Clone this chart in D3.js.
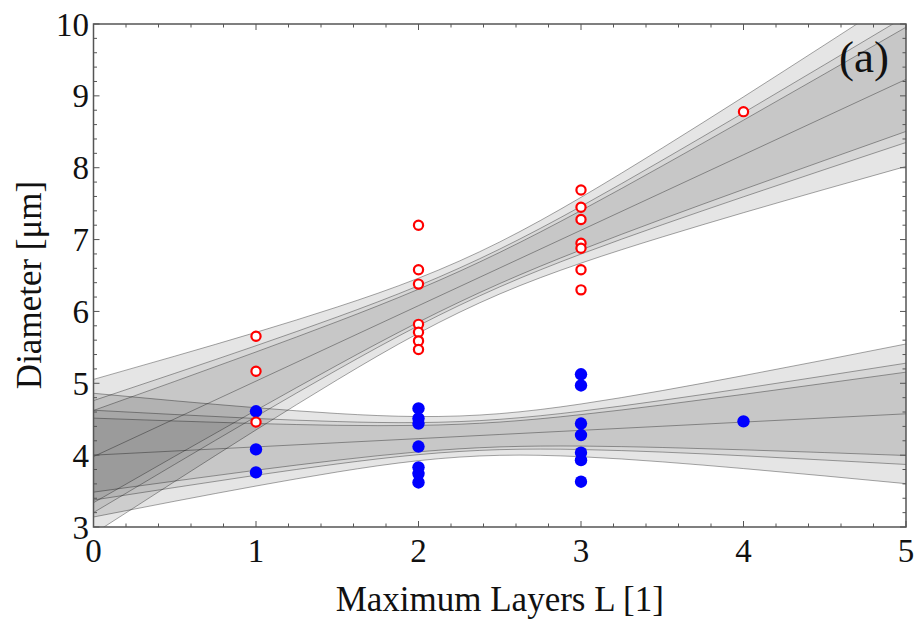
<!DOCTYPE html>
<html>
<head>
<meta charset="utf-8">
<script src="https://cdn.jsdelivr.net/npm/d3@7"></script>
<style>
  html, body { margin: 0; padding: 0; background: #fff; }
  svg { display: block; }
  text { font-family: "Liberation Serif", "Times New Roman", serif; fill: #111; }
</style>
</head>
<body>
<svg id="chart" width="917" height="626"></svg>
<script>
// ---------- data ----------
const redX = [1,1,1, 2,2,2,2,2,2,2, 3,3,3,3,3,3,3, 4];
const redY = [5.655,5.167,4.46, 7.2,6.58,6.38,5.82,5.71,5.59,5.47, 7.69,7.45,7.28,6.95,6.88,6.58,6.30, 8.78];
const blueX = [1,1,1, 2,2,2,2,2,2,2, 3,3,3,3,3,3,3, 4];
const blueY = [4.61,4.08,3.76, 4.65,4.51,4.44,4.12,3.83,3.74,3.62, 5.125,4.97,4.44,4.28,4.035,3.93,3.63, 4.47];

// fit bands sampled along x
const bandX = [0,0.5,1,1.5,2,2.5,3,3.5,4,4.5,5];
const redCenter = [3.98,4.505,5.03,5.555,6.08,6.605,7.13,7.655,8.18,8.705,9.23];
const redHalf90 = [0.642,0.521,0.406,0.303,0.229,0.217,0.274,0.370,0.482,0.602,0.725];
const redHalf95 = [0.779,0.633,0.493,0.368,0.278,0.263,0.332,0.449,0.585,0.730,0.879];
const redHalf99 = [1.074,0.872,0.679,0.507,0.383,0.362,0.458,0.619,0.806,1.006,1.212];
const blueCenter = [4.0,4.0575,4.115,4.1725,4.23,4.2875,4.345,4.4025,4.46,4.5175,4.575];
const blueHalf90 = [0.515,0.418,0.325,0.243,0.184,0.173,0.219,0.296,0.386,0.482,0.580];
const blueHalf95 = [0.625,0.508,0.395,0.295,0.223,0.211,0.267,0.360,0.469,0.586,0.705];
const blueHalf99 = [0.861,0.699,0.545,0.407,0.307,0.290,0.367,0.496,0.647,0.807,0.972];

const xTicks = [0,1,2,3,4,5];
const yTicks = [3,4,5,6,7,8,9,10];
const xLabel = "Maximum Layers L [1]";
const yLabel = "Diameter [μm]";
const panelLabel = "(a)";

// ---------- layout ----------
const L = 93.5, R = 906, T = 24, B = 527;
const svg = d3.select("#chart");
const x = d3.scaleLinear().domain([0,5]).range([L,R]);
const y = d3.scaleLinear().domain([3,10]).range([B,T]);

svg.append("defs").append("clipPath").attr("id","plotclip")
  .append("rect").attr("x",L).attr("y",T).attr("width",R-L).attr("height",B-T);

const plot = svg.append("g").attr("clip-path","url(#plotclip)");

function bandData(center, half) {
  return bandX.map((xv,i) => ({x: xv, lo: center[i]-half[i], hi: center[i]+half[i], c: center[i]}));
}
const area = d3.area().x(d => x(d.x)).y0(d => y(d.lo)).y1(d => y(d.hi)).curve(d3.curveNatural);
const lineLo = d3.line().x(d => x(d.x)).y(d => y(d.lo)).curve(d3.curveNatural);
const lineHi = d3.line().x(d => x(d.x)).y(d => y(d.hi)).curve(d3.curveNatural);
const lineC = d3.line().x(d => x(d.x)).y(d => y(d.c)).curve(d3.curveNatural);

const fits = [
  {center: redCenter, halves: [redHalf99, redHalf95, redHalf90]},
  {center: blueCenter, halves: [blueHalf99, blueHalf95, blueHalf90]}
];
const opac = [0.10, 0.06, 0.07];

fits.forEach(f => {
  f.halves.forEach((h,k) => {
    plot.append("path").datum(bandData(f.center,h))
      .attr("d", area).attr("fill", "#000").attr("fill-opacity", opac[k]).attr("stroke","none");
  });
});
fits.forEach(f => {
  f.halves.forEach(h => {
    const d = bandData(f.center,h);
    plot.append("path").datum(d).attr("d", lineLo).attr("fill","none")
      .attr("stroke","#000").attr("stroke-opacity",0.35).attr("stroke-width",1);
    plot.append("path").datum(d).attr("d", lineHi).attr("fill","none")
      .attr("stroke","#000").attr("stroke-opacity",0.35).attr("stroke-width",1);
  });
  plot.append("path").datum(bandData(f.center,f.halves[0])).attr("d", lineC).attr("fill","none")
    .attr("stroke","#000").attr("stroke-opacity",0.35).attr("stroke-width",1);
});

// points
plot.selectAll("circle.blue").data(blueX.map((v,i)=>({x:v,y:blueY[i]}))).enter()
  .append("circle").attr("class","blue")
  .attr("cx", d => x(d.x)).attr("cy", d => y(d.y)).attr("r", 6.2).attr("fill", "#0000ff");
plot.selectAll("circle.red").data(redX.map((v,i)=>({x:v,y:redY[i]}))).enter()
  .append("circle").attr("class","red")
  .attr("cx", d => x(d.x)).attr("cy", d => y(d.y)).attr("r", 4.6)
  .attr("fill", "#fff").attr("stroke", "#ff0000").attr("stroke-width", 2.2);

// ---------- frame & ticks ----------
const axisColor = "#555";
svg.append("rect").attr("x",L).attr("y",T).attr("width",R-L).attr("height",B-T)
  .attr("fill","none").attr("stroke",axisColor).attr("stroke-width",1.5);

const xMinor = d3.range(0, 5.0001, 0.2);
const yMinor = d3.range(3, 10.0001, 0.2);
const tickG = svg.append("g").attr("stroke", axisColor).attr("stroke-width", 1);
function isMajor(v){ return Math.abs(v - Math.round(v)) < 1e-6; }
xMinor.forEach(v => {
  const len = isMajor(v) ? 6 : 3.5;
  tickG.append("line").attr("x1",x(v)).attr("x2",x(v)).attr("y1",B).attr("y2",B-len);
  tickG.append("line").attr("x1",x(v)).attr("x2",x(v)).attr("y1",T).attr("y2",T+len);
});
yMinor.forEach(v => {
  const len = isMajor(v) ? 6 : 3.5;
  tickG.append("line").attr("y1",y(v)).attr("y2",y(v)).attr("x1",L).attr("x2",L+len);
  tickG.append("line").attr("y1",y(v)).attr("y2",y(v)).attr("x1",R).attr("x2",R-len);
});

// tick labels
svg.append("g").selectAll("text").data(xTicks).enter().append("text")
  .attr("x", d => x(d)).attr("y", 562).attr("text-anchor","middle")
  .attr("font-size", 33).text(d => d);
svg.append("g").selectAll("text").data(yTicks).enter().append("text")
  .attr("x", 89).attr("y", d => y(d)).attr("dy","0.35em").attr("text-anchor","end")
  .attr("font-size", 33).text(d => d);

// axis titles
svg.append("text").attr("x", (L+R)/2).attr("y", 611).attr("text-anchor","middle")
  .attr("font-size", 35).text(xLabel);
svg.append("text").attr("transform", `translate(41,285) rotate(-90)`)
  .attr("text-anchor","middle").attr("font-size", 35).text(yLabel);

// panel label
svg.append("text").attr("x", 889).attr("y", 72).attr("text-anchor","end")
  .attr("font-size", 45).text(panelLabel);
</script>
</body>
</html>
